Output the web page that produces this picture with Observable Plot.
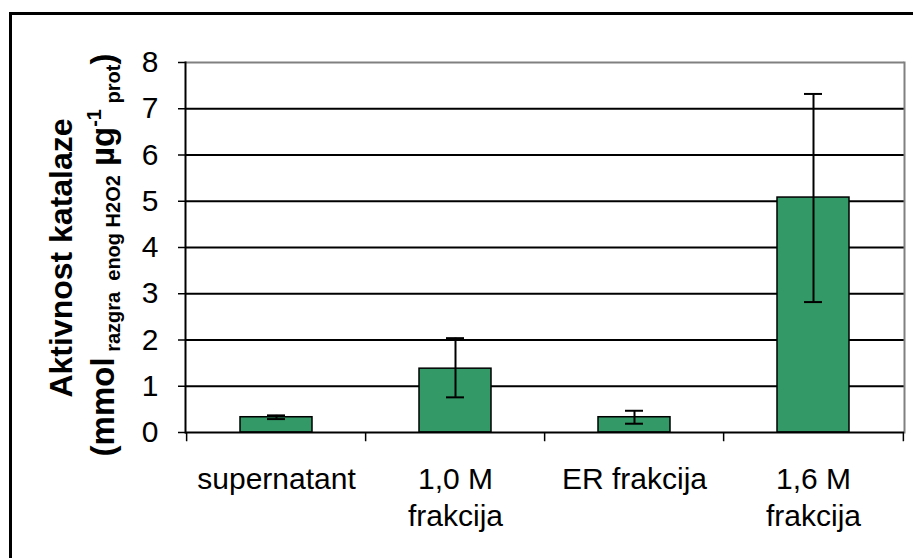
<!DOCTYPE html>
<html>
<head>
<meta charset="utf-8">
<script src="https://cdn.jsdelivr.net/npm/d3@7"></script>
<script src="https://cdn.jsdelivr.net/npm/@observablehq/plot@0.6"></script>
<style>
  html, body { margin: 0; padding: 0; background: #fff; }
  #wrap { position: relative; width: 913px; height: 558px; overflow: hidden; }
  #border { position: absolute; left: 9px; top: 12px; width: 960px; height: 600px;
            border-left: 3px solid #000; border-top: 3px solid #000; pointer-events: none; }
</style>
</head>
<body>
<div id="wrap"><div id="border"></div></div>
<script>
// ---- data ----
const categories = ["supernatant", "1,0 M frakcija", "ER frakcija", "1,6 M frakcija"];
const tickLabels = ["supernatant", "1,0 M\nfrakcija", "ER frakcija", "1,6 M\nfrakcija"];
const values = [0.33, 1.38, 0.33, 5.08];
const errLow = [0.29, 0.76, 0.19, 2.82];
const errHigh = [0.37, 2.04, 0.47, 7.32];
const yTicks = [0, 1, 2, 3, 4, 5, 6, 7, 8];
const gridValues = [1, 2, 3, 4, 5, 6, 7];
const yLabel1 = "Aktivnost katalaze";

const data = categories.map((c, i) => ({cat: c, value: values[i], lo: errLow[i], hi: errHigh[i]}));

const W = 913, H = 558, ML = 185, MR = 9, MT = 62, MB = 126;
const step = (W - ML - MR) / categories.length;
const font = "'Liberation Sans', Arial, sans-serif";

const chart = Plot.plot({
  width: W, height: H,
  marginLeft: ML, marginRight: MR, marginTop: MT, marginBottom: MB,
  style: {fontFamily: font, fontSize: "30px", color: "#000", background: "transparent", overflow: "visible"},
  x: {domain: categories, paddingInner: 0.6, paddingOuter: 0.3},
  y: {domain: [0, 8]},
  marks: [
    Plot.ruleY(gridValues, {stroke: "#000", strokeWidth: 2}),
    Plot.ruleY([8], {stroke: "#808080", strokeWidth: 2}),
    Plot.frame({anchor: "right", stroke: "#808080", strokeWidth: 2}),
    Plot.barY(data, {x: "cat", y: "value", fill: "#339966", stroke: "#000", strokeWidth: 1.5}),
    Plot.ruleY([0], {stroke: "#000", strokeWidth: 2}),
    Plot.frame({anchor: "left", stroke: "#000", strokeWidth: 2}),
    Plot.ruleX(data, {x: "cat", y1: "lo", y2: "hi", stroke: "#000", strokeWidth: 2}),
    Plot.tickY(data, {x: "cat", y: "lo", inset: 27, stroke: "#000", strokeWidth: 2}),
    Plot.tickY(data, {x: "cat", y: "hi", inset: 27, stroke: "#000", strokeWidth: 2}),
    // category boundary ticks on the x axis
    Plot.ruleX(categories, {x: d => d, dx: -step / 2, y1: 0, y2: -0.2, stroke: "#000", strokeWidth: 1.5}),
    Plot.ruleX(categories.slice(-1), {x: d => d, dx: step / 2, y1: 0, y2: -0.2, stroke: "#000", strokeWidth: 1.5}),
    Plot.axisY({ticks: yTicks, tickSize: 7, tickPadding: 20, fontSize: 30, label: null, stroke: "#000", strokeWidth: 1.5}),
    Plot.axisX({tickSize: 0, tickPadding: 30, fontSize: 30, label: null, lineHeight: 1.23,
      tickFormat: d => tickLabels[categories.indexOf(d)]})
  ]
});

document.getElementById("wrap").insertBefore(chart, document.getElementById("border"));

// y-axis title (two lines, with sub/superscripts)
const svg = d3.select(chart);
svg.append("text")
  .attr("transform", "translate(72,258) rotate(-90)")
  .attr("text-anchor", "middle")
  .attr("font-family", font)
  .attr("font-weight", "bold")
  .attr("font-size", 32)
  .attr("fill", "#000")
  .text(yLabel1);

const t2 = svg.append("text")
  .attr("transform", "translate(114,255) rotate(-90)")
  .attr("text-anchor", "middle")
  .attr("font-family", font)
  .attr("font-weight", "bold")
  .attr("font-size", 33)
  .attr("fill", "#000");
const parts = [
  {t: "(mmol", size: 33, dy: 0},
  {t: "\u00a0razgra\u00a0\u00a0enog H2O2", size: 20, dy: 6},
  {t: "\u00a0\u00b5g", size: 33, dy: -6},
  {t: "-1", size: 20, dy: -13},
  {t: "\u00a0prot", size: 20, dy: 19},
  {t: ")", size: 33, dy: -6}
];
parts.forEach(p => t2.append("tspan").attr("font-size", p.size).attr("dy", p.dy).text(p.t));
</script>
</body>
</html>
